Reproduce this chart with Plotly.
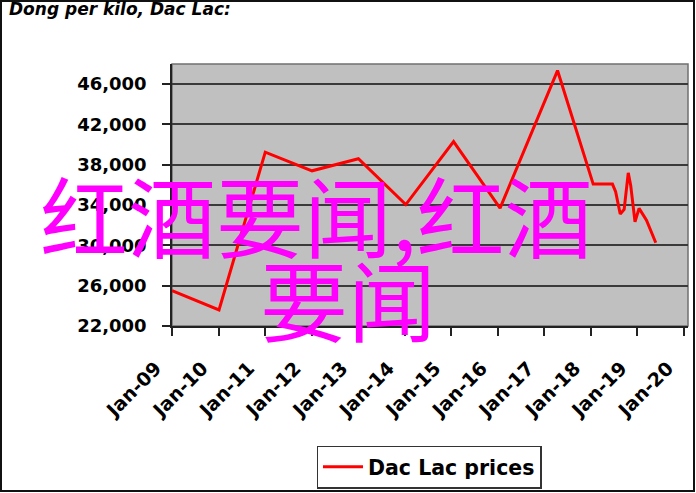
import plotly.graph_objects as go

# ---- data ----
dates = ["2009-01-01", "2010-01-05", "2011-01-03", "2012-01-05", "2013-01-03",
         "2014-01-10", "2015-01-20", "2016-01-20", "2017-04-15", "2018-01-20",
         "2018-06-20", "2018-07-15", "2018-08-20", "2018-09-20", "2018-10-22",
         "2018-11-10", "2018-12-14", "2019-01-15", "2019-03-14", "2019-05-26"]
prices = [25500, 23600, 39250, 37400, 38600,
          34050, 40300, 33700, 47350, 36080,
          36080, 35320, 33110, 33570, 37200,
          35980, 32340, 33670, 32510, 30260]

tick_dates = ["2009-01-01", "2010-01-01", "2011-01-01", "2012-01-01", "2013-01-01",
              "2014-01-01", "2015-01-01", "2016-01-01", "2017-01-01", "2018-01-01",
              "2019-01-01", "2020-01-01"]
tick_labels = ["Jan-09", "Jan-10", "Jan-11", "Jan-12", "Jan-13", "Jan-14",
               "Jan-15", "Jan-16", "Jan-17", "Jan-18", "Jan-19", "Jan-20"]

series_name = "Dac Lac prices"
title_text = "Dong per kilo, Dac Lac:"
watermark_1 = "红酒要闻,红酒"
watermark_2 = "要闻"

# ---- layout geometry (pixels) ----
W, H = 696, 493
L, R, T, B = 172, 8, 64, 167
pw, ph = W - L - R, H - T - B


def px(x):
    return (x - L) / pw


def py(y):
    return (H - B - y) / ph


FONT = "DejaVu Sans"

fig = go.Figure()
fig.add_trace(go.Scatter(
    x=dates, y=prices, mode="lines", name=series_name,
    line=dict(color="#FF0000", width=3),
))

fig.update_layout(
    width=W, height=H,
    margin=dict(l=L, r=R, t=T, b=B, pad=0, autoexpand=False),
    paper_bgcolor="white",
    plot_bgcolor="#C0C0C0",
    showlegend=True,
    title=dict(text=title_text, x=9 / W, xanchor="left", xref="container",
               y=1 - 3 / H, yanchor="top", yref="container",
               font=dict(family=FONT, size=17, color="black", weight="bold", style="italic")),
    legend=dict(
        x=px(429), xanchor="center", y=py(467), yanchor="middle",
        bgcolor="white", bordercolor="#333333", borderwidth=1.5,
        font=dict(family=FONT, size=20.5, color="black", weight="bold"),
        itemwidth=40,
    ),
    xaxis=dict(
        type="date",
        range=["2009-01-01", "2020-02-03"],
        tickvals=tick_dates, ticktext=tick_labels,
        tickangle=-45,
        ticks="outside", ticklen=8, tickwidth=1.5, tickcolor="#222222",
        showgrid=False, zeroline=False,
        showline=True, linecolor="#222222", linewidth=1.5,
        tickfont=dict(family=FONT, size=19, color="black", weight="bold"),
        ticklabelstandoff=14,
        ticklabelshift=-16,
        automargin=False,
    ),
    yaxis=dict(
        range=[22000, 48000], tick0=22000, dtick=4000,
        tickformat=",d",
        ticks="outside", ticklen=8, tickwidth=1.5, tickcolor="#222222",
        showgrid=True, gridcolor="#3a3a3a", gridwidth=1.5,
        zeroline=False,
        showline=True, linecolor="#222222", linewidth=1.5,
        tickfont=dict(family=FONT, size=18, color="black", weight="bold"),
        ticklabelstandoff=12,
        automargin=False,
    ),
)

# plot-area frame (grey) and outer chart border
fig.add_shape(type="rect", xref="paper", yref="paper", x0=0, x1=1, y0=0, y1=1,
              line=dict(color="#707070", width=1.5), layer="below")
fig.add_shape(type="rect", xref="paper", yref="paper",
              x0=px(1), x1=px(694), y0=py(491), y1=py(1),
              line=dict(color="#111111", width=2))

# magenta watermark text
fig.add_annotation(text=watermark_1, xref="paper", yref="paper",
                   x=px(316), y=py(212), xanchor="center", yanchor="middle",
                   showarrow=False,
                   font=dict(family="Noto Sans CJK SC", size=88, color="#FF00FF"))
fig.add_annotation(text=watermark_2, xref="paper", yref="paper",
                   x=px(348), y=py(296), xanchor="center", yanchor="middle",
                   showarrow=False,
                   font=dict(family="Noto Sans CJK SC", size=88, color="#FF00FF"))

fig.write_html("out.html", config={"displayModeBar": False},
               post_script="document.body.style.margin='0px';")
